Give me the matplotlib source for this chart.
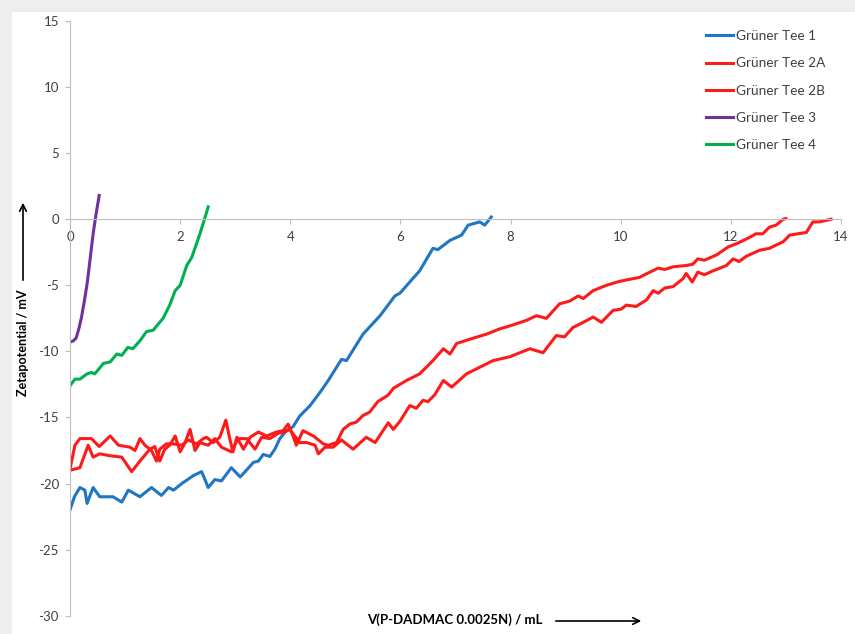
import matplotlib
matplotlib.use("Agg")
import matplotlib.pyplot as plt
from matplotlib.patches import Rectangle, FancyArrowPatch

plt.rcParams["font.family"] = ["Lato", "DejaVu Sans"]
plt.rcParams["axes.unicode_minus"] = False

# Grüner Tee 1
x1 = [0, 0.08, 0.18, 0.27, 0.31, 0.42, 0.54, 0.78, 0.94, 1.06, 1.27, 1.48, 1.66, 1.79, 1.88,
      2.03, 2.24, 2.39, 2.51, 2.63, 2.75, 2.93, 3.09, 3.18, 3.33, 3.42, 3.51, 3.63, 3.72, 3.81,
      3.93, 4.05, 4.17, 4.36, 4.54, 4.69, 4.93, 5.02, 5.32, 5.63, 5.90, 5.99, 6.35, 6.59, 6.68,
      6.90, 7.11, 7.23, 7.44, 7.53, 7.65]
y1 = [-22.0, -21.0, -20.3, -20.5, -21.5, -20.3, -21.0, -21.0, -21.4, -20.5, -21.0, -20.3, -20.9,
      -20.3, -20.5, -20.0, -19.4, -19.1, -20.3, -19.7, -19.8, -18.8, -19.5, -19.1, -18.4, -18.3,
      -17.8, -17.95, -17.4, -16.6, -16.0, -15.7, -14.9, -14.1, -13.1, -12.2, -10.6, -10.7, -8.7,
      -7.3, -5.8, -5.6, -3.9, -2.2, -2.3, -1.6, -1.2, -0.45, -0.2, -0.45, 0.17]

# Grüner Tee 2A
x2a = [0, 0.09, 0.18, 0.39, 0.53, 0.73, 0.88, 1.09, 1.18, 1.27, 1.36, 1.48, 1.57, 1.63, 1.75,
       1.88, 2.03, 2.15, 2.30, 2.42, 2.48, 2.60, 2.72, 2.83, 2.90, 2.96, 3.03, 3.15, 3.27, 3.42,
       3.57, 3.75, 3.87, 3.96, 4.05, 4.11, 4.23, 4.42, 4.60, 4.69, 4.84, 4.96, 5.08, 5.20, 5.32,
       5.44, 5.59, 5.78, 5.87, 6.11, 6.35, 6.59, 6.78, 6.90, 7.02, 7.32, 7.56, 7.80, 8.04, 8.29,
       8.47, 8.65, 8.89, 9.07, 9.23, 9.32, 9.50, 9.74, 9.98, 10.34, 10.53, 10.68, 10.80, 10.95,
       11.19, 11.31, 11.40, 11.52, 11.74, 11.95, 12.13, 12.28, 12.46, 12.58, 12.70, 12.82,
       12.95, 13.0]
y2a = [-18.9, -17.1, -16.6, -16.6, -17.2, -16.4, -17.1, -17.25, -17.5, -16.6, -17.1, -17.5,
       -18.3, -17.4, -17.0, -17.0, -17.1, -16.7, -17.0, -16.6, -16.5, -16.9, -16.5, -15.2, -16.6,
       -17.6, -16.5, -17.4, -16.5, -16.1, -16.4, -16.1, -16.0, -15.5, -16.4, -17.1, -16.0, -16.4,
       -17.0, -17.1, -16.9, -15.9, -15.5, -15.35, -14.85, -14.6, -13.8, -13.3, -12.8, -12.2,
       -11.7, -10.7, -9.8, -10.2, -9.4, -9.0, -8.7, -8.3, -8.0, -7.65, -7.3, -7.5, -6.4, -6.2,
       -5.8, -6.0, -5.4, -5.0, -4.7, -4.4, -4.0, -3.7, -3.8, -3.6, -3.5, -3.4, -3.0, -3.1, -2.7,
       -2.1, -1.8, -1.5, -1.1, -1.1, -0.6, -0.45, 0.0, 0.05]

# Grüner Tee 2B
x2b = [0, 0.18, 0.33, 0.42, 0.54, 0.73, 0.94, 1.12, 1.27, 1.45, 1.54, 1.63, 1.72, 1.81, 1.91,
       2.0, 2.09, 2.18, 2.27, 2.36, 2.51, 2.63, 2.75, 2.93, 3.05, 3.21, 3.36, 3.48, 3.63, 3.78,
       3.90, 3.99, 4.17, 4.30, 4.45, 4.51, 4.63, 4.78, 4.93, 5.14, 5.38, 5.54, 5.78, 5.87, 5.99,
       6.17, 6.29, 6.41, 6.50, 6.62, 6.78, 6.93, 7.20, 7.44, 7.68, 7.99, 8.11, 8.35, 8.59, 8.83,
       8.98, 9.13, 9.32, 9.50, 9.65, 9.86, 10.01, 10.10, 10.28, 10.47, 10.59, 10.68, 10.80,
       10.95, 11.13, 11.19, 11.30, 11.40, 11.52, 11.68, 11.92, 12.04, 12.15, 12.28, 12.52,
       12.70, 12.95, 13.07, 13.37, 13.49, 13.61, 13.82]
y2b = [-19.0, -18.8, -17.1, -18.0, -17.75, -17.9, -18.0, -19.1, -18.3, -17.4, -17.2, -18.3,
       -17.4, -17.1, -16.4, -17.6, -16.9, -15.9, -17.5, -16.9, -17.1, -16.6, -17.25, -17.6,
       -16.6, -16.6, -17.4, -16.5, -16.6, -16.2, -16.1, -15.9, -16.9, -16.9, -17.1, -17.75,
       -17.25, -17.25, -16.7, -17.4, -16.5, -16.9, -15.4, -15.9, -15.3, -14.1, -14.3, -13.7,
       -13.8, -13.3, -12.2, -12.7, -11.7, -11.2, -10.7, -10.4, -10.2, -9.8, -10.1, -8.8, -8.9,
       -8.2, -7.8, -7.4, -7.8, -6.9, -6.8, -6.5, -6.6, -6.1, -5.4, -5.6, -5.2, -5.1, -4.5, -4.1,
       -4.75, -4.0, -4.2, -3.9, -3.5, -3.0, -3.2, -2.8, -2.35, -2.2, -1.7, -1.2, -1.0, -0.2,
       -0.2, 0.0]

# Grüner Tee 3
x3 = [0, 0.06, 0.11, 0.16, 0.21, 0.26, 0.31, 0.36, 0.42, 0.47, 0.53]
y3 = [-9.3, -9.2, -9.0, -8.3, -7.4, -6.2, -4.9, -3.2, -1.1, 0.3, 1.8]

# Grüner Tee 4
x4 = [0, 0.09, 0.18, 0.31, 0.39, 0.45, 0.61, 0.73, 0.85, 0.94, 1.05, 1.14, 1.27, 1.39, 1.51,
      1.69, 1.81, 1.91, 2.0, 2.12, 2.21, 2.36, 2.51]
y4 = [-12.6, -12.1, -12.1, -11.7, -11.6, -11.7, -10.9, -10.8, -10.2, -10.3, -9.7, -9.8, -9.2,
      -8.5, -8.4, -7.5, -6.5, -5.4, -5.0, -3.5, -2.9, -1.1, 0.93]

series = [
    ("Grüner Tee 1", x1, y1, "#1f77c4"),
    ("Grüner Tee 2A", x2a, y2a, "#ff1a1a"),
    ("Grüner Tee 2B", x2b, y2b, "#ff1a1a"),
    ("Grüner Tee 3", x3, y3, "#7030a0"),
    ("Grüner Tee 4", x4, y4, "#00b050"),
]

fig = plt.figure(figsize=(8.55, 6.34), dpi=100, facecolor="#eeeeee")
# white chart area with the grey border top/left
fig.patches.append(Rectangle((12 / 855, 0), 1, 1 - 12 / 634, transform=fig.transFigure,
                             facecolor="white", edgecolor="none", zorder=-5))
ax = fig.add_axes([70 / 855, 1 - 615.7 / 634, (841 - 70) / 855, (615.7 - 21) / 634])
ax.set_facecolor("none")
ax.set_zorder(2)

for name, xs, ys, col in series:
    ax.plot(xs, ys, color=col, lw=2.2, label=name, solid_joinstyle="round")

ax.set_xlim(0, 14)
ax.set_ylim(-30, 15)
ax.set_xticks(range(0, 15, 2))
ax.set_yticks(range(-30, 16, 5))

grey = "#bfbfbf"
for s in ("top", "right"):
    ax.spines[s].set_visible(False)
ax.spines["bottom"].set_position(("data", 0))
ax.spines["bottom"].set_color(grey)
ax.spines["left"].set_color(grey)
ax.tick_params(axis="both", colors=grey, labelcolor="#404040", labelsize=9.5,
               length=3.5, width=0.8, direction="out")
ax.tick_params(axis="x", pad=5)
ax.tick_params(axis="y", pad=4.5)

leg = ax.legend(loc="upper left", bbox_to_anchor=(694 / 855, 1 - 18 / 634),
                bbox_transform=fig.transFigure, frameon=False, fontsize=9.8,
                handlelength=2.0, handletextpad=0.22, labelspacing=1.12)
for t in leg.get_texts():
    t.set_color("#404040")

# axis titles with arrows
fig.text(23 / 855, 1 - 343 / 634, "Zetapotential / mV", rotation=90, fontsize=9,
         fontweight="bold", ha="center", va="center", color="black")
fig.add_artist(FancyArrowPatch(
    (23 / 855, 1 - 283 / 634), (23 / 855, 1 - 200 / 634), transform=fig.transFigure,
    arrowstyle="->", mutation_scale=12, lw=1.2, color="black"))

fig.text(455 / 855, 1 - 620 / 634, "V(P-DADMAC 0.0025N) / mL", fontsize=9.5,
         fontweight="bold", ha="center", va="center", color="black")
fig.add_artist(FancyArrowPatch(
    (553 / 855, 1 - 621 / 634), (644 / 855, 1 - 621 / 634), transform=fig.transFigure,
    arrowstyle="->", mutation_scale=12, lw=1.2, color="black"))

fig.savefig("out.png", dpi=100, facecolor=fig.get_facecolor())
